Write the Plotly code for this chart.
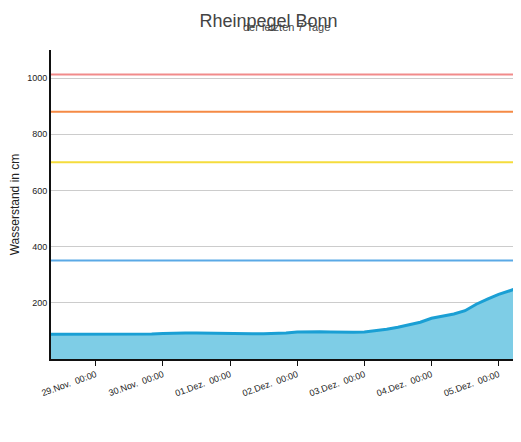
import plotly.graph_objects as go
import pandas as pd

times = pd.date_range("2023-11-28 08:00", "2023-12-05 08:00", freq="4h").strftime("%Y-%m-%d %H:%M").tolist()
levels = [88, 88, 88, 87, 87,
          87, 87, 87, 88, 89, 91,
          93, 93, 93, 92, 91, 90,
          90, 90, 90, 91, 93, 96,
          97, 97, 96, 95, 95, 96,
          100, 106, 113, 122, 131, 145,
          152, 160, 172, 195, 213, 230,
          243, 256]
refs = [("Mittelwert 1961/70 - 351 cm", 351, "#5aa9e6"),
        ("Uferkante - Steinerstrasse 700 cm", 700, "#f5dc3c"),
        ("Brassertufer - 880 cm", 880, "#f58a45"),
        ("Hochwasser, Dezember 1993 - 1013 cm", 1013, "#f28b8b")]
tickvals = pd.date_range("2023-11-29", "2023-12-05", freq="D").strftime("%Y-%m-%d").tolist()
ticktext = ["29.Nov.  00:00", "30.Nov.  00:00", "01.Dez.  00:00", "02.Dez.  00:00",
            "03.Dez.  00:00", "04.Dez.  00:00", "05.Dez.  00:00"]

fig = go.Figure()
fig.add_trace(go.Scatter(x=times, y=levels, name="<b>Rheinpegel</b>", mode="lines", fill="tozeroy",
                         fillcolor="#7ecde6", line=dict(color="#1a9fd4", width=3)))
for name, v, c in refs:
    fig.add_trace(go.Scatter(x=[times[0], times[-1]], y=[v, v], name="<b>" + name + "</b>", mode="lines",
                             line=dict(color=c, width=2)))
fig.update_layout(
    width=521, height=442, margin=dict(l=43, r=8, t=42, b=91, autoexpand=False),
    paper_bgcolor="white", plot_bgcolor="white",
    font=dict(family="Liberation Sans, Arial", color="#222"),
    title=dict(text="Rheinpegel Bonn", x=0.5, xanchor="center", y=0.985, yanchor="top",
               font=dict(size=18, color="#444")),
    showlegend=True,
    legend=dict(orientation="h", x=0.0, y=-0.27, yanchor="top", font=dict(size=11, color="#111")),
    xaxis=dict(range=[times[0], times[-1]], tickvals=tickvals, ticktext=ticktext, tickangle=-20,
               showgrid=False, showline=True, linecolor="#111", linewidth=2, ticks="outside",
               tickcolor="#111", tickfont=dict(size=9)),
    yaxis=dict(range=[0, 1100], tickvals=[200, 400, 600, 800, 1000], showgrid=True, automargin=False,
               gridcolor="#cccccc", showline=True, linecolor="#111", linewidth=2,
               title=dict(text="Wasserstand in cm", font=dict(size=12), standoff=8), tickfont=dict(size=9)),
    annotations=[dict(text="der letzten 7 Tage", xref="paper", yref="paper", x=0.5, y=1.05,
                      yanchor="bottom", showarrow=False, font=dict(size=11, color="#444"))],
)
fig.write_html("out.html")
